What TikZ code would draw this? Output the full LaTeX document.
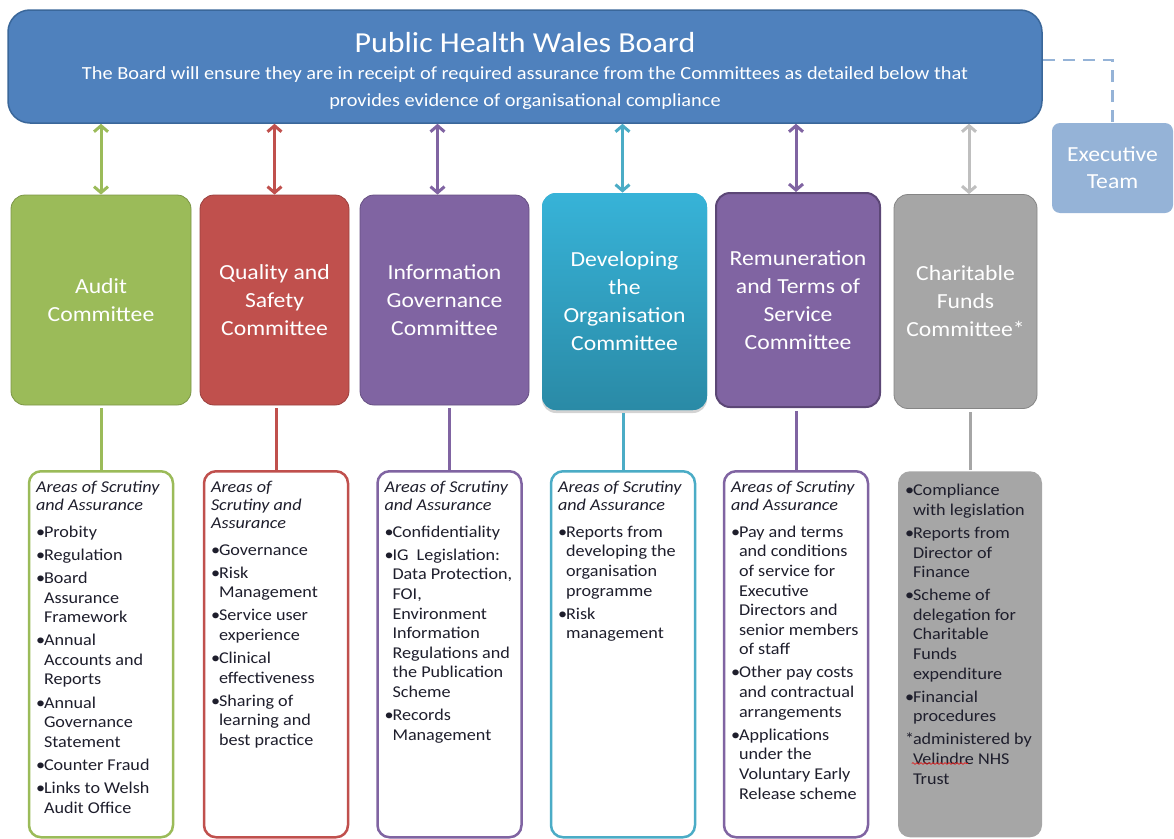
\documentclass[tikz,border=0pt]{standalone}
\usepackage{fontspec}
\setmainfont{Carlito}[FakeStretch=1.1]
\usetikzlibrary{arrows.meta,shadows,decorations.pathmorphing}

\definecolor{boardblue}{HTML}{4F81BD}
\definecolor{boardedge}{HTML}{3A679A}
\definecolor{auditgreen}{HTML}{9BBB59}
\definecolor{qualityred}{HTML}{C0504D}
\definecolor{igpurple}{HTML}{8064A2}
\definecolor{remedge}{HTML}{5C4776}
\definecolor{devteal}{HTML}{4BACC6}
\definecolor{devtop}{HTML}{37B3D8}
\definecolor{devbottom}{HTML}{2A8AA6}
\definecolor{charitygrey}{HTML}{A6A6A6}
\definecolor{arrowgrey}{HTML}{BFBFBF}
\definecolor{execblue}{HTML}{95B3D7}
\definecolor{areatext}{HTML}{1E1E2C}
\definecolor{spellred}{HTML}{E02020}

\newcommand{\areahead}[1]{\noindent{\itshape\fontsize{16.5}{18}\selectfont #1\par}\vspace{4pt}}
\newcommand{\itm}[2][\textbullet]{\par\vspace{3.5pt}\hangindent=8pt\hangafter=1\noindent\makebox[8pt][l]{#1}#2\par}
\newcommand{\areatext}[1]{\parbox[t][352pt][t]{130pt}{\raggedright\fontsize{16.5}{19.6}\selectfont\vspace*{2.5pt}#1}}

\begin{document}
\begin{tikzpicture}[x=1pt,y=1pt,
	committee/.style={draw=#1!80!black, line width=0.8pt, fill=#1, rounded corners=14pt, text=white, align=center, font=\fontsize{21.5}{28}\selectfont, minimum height=210pt},
	areabox/.style={draw=#1, line width=2.5pt, rounded corners=12pt, fill=white, inner xsep=7pt, inner ysep=7pt, anchor=north, text=areatext},
	link/.style={<->, >={Straight Barb[length=6pt,width=14pt]}, line width=3pt, draw=#1},
	feed/.style={line width=3pt, draw=#1, shorten >=3pt},
	execlink/.style={draw=execblue, line width=2.5pt, dash pattern=on 12pt off 8pt}]
		\useasboundingbox (0,0) rectangle (1174,-838);

		\node[draw=boardedge, line width=1.5pt, fill=boardblue, rounded corners=22pt, text=white, align=center, font=\fontsize{18.5}{27}\selectfont, minimum width=1034pt, minimum height=113pt] (board) at (525,-66.5) {\rule{0pt}{29pt}{\fontsize{29}{27}\selectfont Public Health Wales Board}\\ The Board will ensure they are in receipt of required assurance from the Committees as detailed below that\\ provides evidence of organisational compliance};
		\node[fill=execblue, rounded corners=8pt, text=white, align=center, font=\fontsize{21.5}{27}\selectfont, minimum width=121pt, minimum height=90pt] (exec) at (1112.5,-168) {Executive\\Team};
		\draw[execlink] ([yshift=6.5pt]board.east) -| (exec.north);

		\node[committee=auditgreen, minimum width=180pt] (audc) at (101,-300) {Audit\\Committee};
		\node[committee=qualityred, minimum width=149pt] (qualc) at (274.5,-300) {Quality and\\Safety\\Committee};
		\node[committee=igpurple, minimum width=169pt] (igc) at (444.5,-300) {Information\\Governance\\Committee};
		\node[committee=devteal, draw=none, top color=devtop, bottom color=devbottom, drop shadow={opacity=0.35, shadow xshift=0pt, shadow yshift=-3pt}, minimum width=165pt, minimum height=217pt] (devc) at (624.5,-301.5) {Developing\\the\\Organisation\\Committee};
		\node[committee=igpurple, draw=remedge, line width=2pt, minimum width=164pt, minimum height=214pt] (remc) at (798,-300) {Remuneration\\and Terms of\\Service\\Committee};
		\node[committee=charitygrey, minimum width=143pt, minimum height=214pt] (charc) at (965.5,-301.5) {Charitable\\Funds\\Committee*};

		\draw[link=auditgreen] (audc.north) -- (audc.north |- board.south);
		\draw[link=qualityred] (qualc.north) -- (qualc.north |- board.south);
		\draw[link=igpurple] ([xshift=-7pt]igc.north) -- ([xshift=-7pt]igc.north |- board.south);
		\draw[link=devteal] ([xshift=-2pt]devc.north) -- ([xshift=-2pt]devc.north |- board.south);
		\draw[link=igpurple] ([xshift=-2pt]remc.north) -- ([xshift=-2pt]remc.north |- board.south);
		\draw[link=arrowgrey] ([xshift=3.5pt]charc.north) -- ([xshift=3.5pt]charc.north |- board.south);

		\node[areabox=auditgreen] (auda) at (101,-470) {\areatext{%
			\areahead{Areas of Scrutiny\newline and Assurance}
			\itm{Probity}
			\itm{Regulation}
			\itm{Board\newline Assurance\newline Framework}
			\itm{Annual\newline Accounts and\newline Reports}
			\itm{Annual\newline Governance\newline Statement}
			\itm{Counter Fraud}
			\itm{Links to Welsh\newline Audit Office}}};
		\node[areabox=qualityred] (quala) at (276,-470) {\areatext{%
			\areahead{Areas of\newline Scrutiny and\newline Assurance}
			\itm{Governance}
			\itm{Risk\newline Management}
			\itm{Service user\newline experience}
			\itm{Clinical\newline effectiveness}
			\itm{Sharing of\newline learning and\newline best practice}}};
		\node[areabox=igpurple] (iga) at (449.5,-470) {\areatext{%
			\areahead{Areas of Scrutiny\newline and Assurance}
			\itm{Confidentiality}
			\itm{IG\ \ Legislation:\newline Data Protection,\newline FOI,\newline Environment\newline Information\newline Regulations and\newline the Publication\newline Scheme}
			\itm{Records\newline Management}}};
		\node[areabox=devteal] (deva) at (623,-470) {\areatext{%
			\areahead{Areas of Scrutiny\newline and Assurance}
			\itm{Reports from\newline developing the\newline organisation\newline programme}
			\itm{Risk\newline management}}};
		\node[areabox=igpurple] (rema) at (796,-470) {\areatext{%
			\areahead{Areas of Scrutiny\newline and Assurance}
			\itm{Pay and terms\newline and conditions\newline of service for\newline Executive\newline Directors and\newline senior members\newline of staff}
			\itm{Other pay costs\newline and contractual\newline arrangements}
			\itm{Applications\newline under the\newline Voluntary Early\newline Release scheme}}};
		\node[areabox=charitygrey, draw=none, fill=charitygrey] (chara) at (970,-470) {\areatext{%
			\itm{Compliance\newline with legislation}
			\itm{Reports from\newline Director of\newline Finance}
			\itm{Scheme of\newline delegation for\newline Charitable\newline Funds\newline expenditure}
			\itm{Financial\newline procedures}
			\itm[*]{administered by\newline Velindre NHS\newline Trust}}};
		\draw[spellred, line width=0.7pt, decorate, decoration={snake, segment length=4pt, amplitude=0.9pt}] ([shift={(15pt,-293.5pt)}]chara.north west) -- +(56,0);

		\draw[feed=auditgreen] (auda.north) -- (auda.north |- audc.south);
		\draw[feed=qualityred] (quala.north) -- (quala.north |- qualc.south);
		\draw[feed=igpurple] (iga.north) -- (iga.north |- igc.south);
		\draw[feed=devteal] (deva.north) -- (deva.north |- devc.south);
		\draw[feed=igpurple] (rema.north) -- (rema.north |- remc.south);
		\draw[feed=charitygrey] (chara.north) -- (chara.north |- charc.south);
	\end{tikzpicture}
\end{document}
